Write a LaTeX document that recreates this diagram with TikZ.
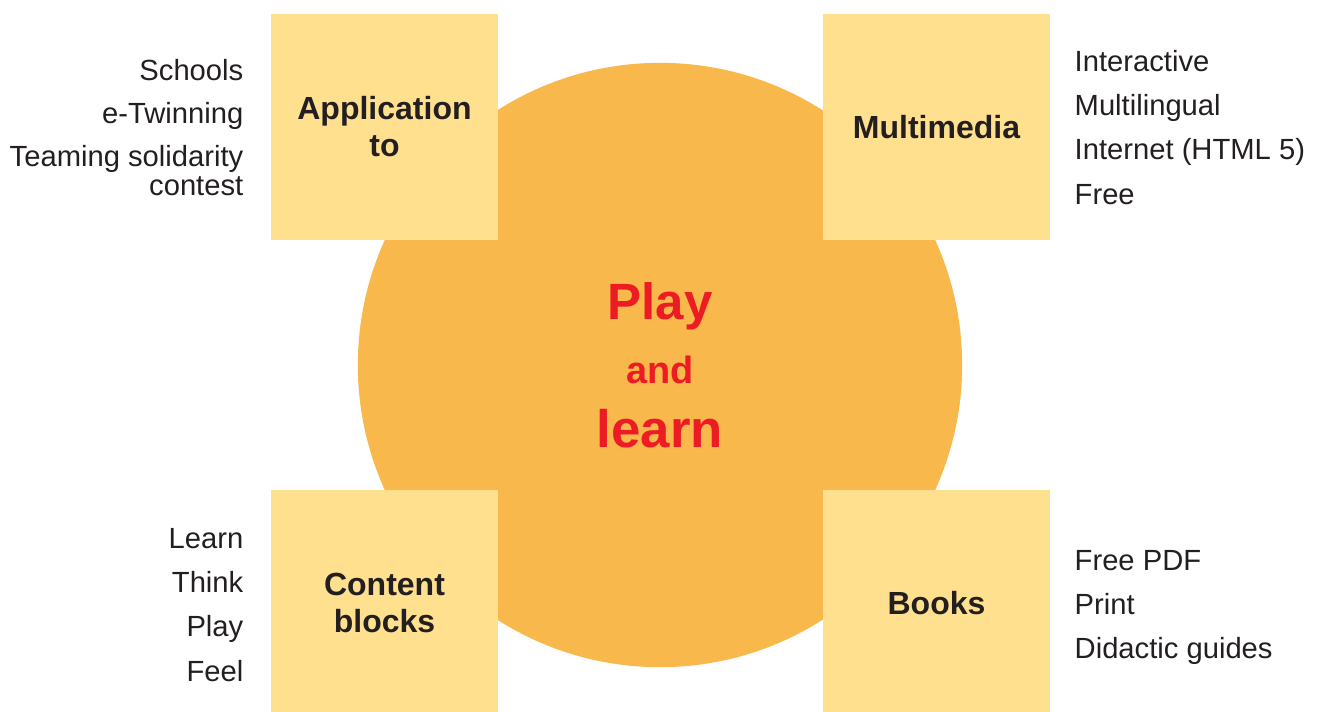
\documentclass[tikz,border=0pt]{standalone}
\usepackage{fontspec}
\setmainfont{Liberation Sans}
\usetikzlibrary{positioning}
\definecolor{discfill}{HTML}{F9B84B}
\definecolor{tilefill}{HTML}{FEE08F}
\definecolor{playred}{HTML}{ED1C24}
\definecolor{inkgray}{HTML}{231F20}
\begin{document}
\begin{tikzpicture}[x=0.01cm,y=-0.01cm,
  tile/.style={fill=tilefill,inner sep=0pt,minimum width=2.27cm,minimum height=2.26cm,
    text=inkgray,align=center,font=\bfseries\fontsize{9.1}{10.5}\selectfont},
  item-l/.style={anchor=base east,inner sep=0pt,text=inkgray,align=right,
    font=\fontsize{8.3}{7.97}\selectfont},
  item-r/.style={anchor=base west,inner sep=0pt,text=inkgray,align=left,
    font=\fontsize{8.3}{7.97}\selectfont}]

\useasboundingbox (0,0) rectangle (1320,711);

\node [circle,fill=discfill,minimum size=6.04cm,inner sep=0pt] (pl-disc) at (660,365) {};
\node [text=playred,align=center,font=\bfseries\fontsize{14.5}{18.2}\selectfont] (pl-title) at (pl-disc.center)
  {Play\\{\fontsize{10.8}{18.2}\selectfont and}\\{\fontsize{15}{18.2}\selectfont learn}};

\node [tile] (pl-app)   at (384.5,127) {Application\\to};
\node [tile] (pl-multi) at (936.5,127) {Multimedia};
\node [tile] (pl-cont)  at (384.5,603) {Content\\blocks};
\node [tile] (pl-books) at (936.5,603) {Books};

% application to
\node [item-l] (app-1) at (244,80)  {Schools};
\node [item-l] (app-2) at (244,123) {e-Twinning};
\node [item-l] (app-3) at (244,195) {Teaming solidarity\\contest};

% multimedia
\node [item-r] (multi-1) at (1074,71)  {Interactive};
\node [item-r] (multi-2) at (1074,115) {Multilingual};
\node [item-r] (multi-3) at (1074,159) {Internet (HTML 5)};
\node [item-r] (multi-4) at (1074,204) {Free};

% content blocks
\node [item-l] (cont-1) at (244,548) {Learn};
\node [item-l] (cont-2) at (244,592) {Think};
\node [item-l] (cont-3) at (244,636) {Play};
\node [item-l] (cont-4) at (244,681) {Feel};

% books
\node [item-r] (books-1) at (1074,570) {Free PDF};
\node [item-r] (books-2) at (1074,614) {Print};
\node [item-r] (books-3) at (1074,658) {Didactic guides};

\end{tikzpicture}
\end{document}
